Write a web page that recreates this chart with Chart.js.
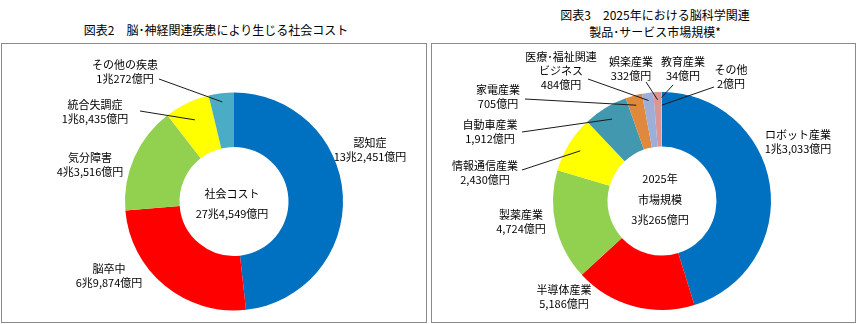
<!DOCTYPE html>
<html lang="ja">
<head>
<meta charset="utf-8">
<script src="https://cdn.jsdelivr.net/npm/chart.js@4/dist/chart.umd.min.js"></script>
<style>
    html, body { margin: 0; padding: 0; background: #fff; overflow: hidden; }
    body { width: 856px; height: 324px; position: relative; font-family: 'Noto Sans CJK JP', sans-serif; }
    .panel { position: absolute; top: 43px; height: 278px; border: 1px solid #8a8a8a; box-sizing: content-box; }
    .title { position: absolute; text-align: center; font-size: 12px; color: #000; white-space: nowrap; }
    canvas { position: absolute; top: 0; }
</style>
</head>
<body>
<div class="panel" style="left:1px; width:424px;"></div>
<div class="panel" style="left:431px; width:423px;"></div>
<div class="title" style="left:0; width:432px; top:22px; line-height:16px;">図表2　脳･神経関連疾患により生じる社会コスト</div>
<div class="title" style="left:455px; width:400px; top:6px; line-height:17px;">図表3　2025年における脳科学関連<br>製品･サービス市場規模*</div>
<canvas id="costChart" width="428" height="324" style="left:0;"></canvas>
<canvas id="marketChart" width="428" height="324" style="left:428px;"></canvas>
<script>
// --- データ ---
const costCategories = ['認知症', '脳卒中', '気分障害', '統合失調症', 'その他の疾患'];
const costValues = [132451, 69874, 43516, 18435, 10272];
const costColors = ['#0070C0', '#FF0000', '#92D050', '#FFFF00', '#4BACC6'];
const costCenterText = ['社会コスト', '27兆4,549億円'];

const marketCategories = ['ロボット産業', '半導体産業', '製薬産業', '情報通信産業', '自動車産業',
    '家電産業', '医療･福祉関連\nビジネス', '娯楽産業', '教育産業', 'その他'];
const marketValues = [13033, 5186, 4724, 2430, 1912, 705, 484, 332, 34, 2];
const marketColors = ['#0070C0', '#FF0000', '#92D050', '#FFFF00', '#4198AF',
    '#E0883C', '#9BAFD9', '#D99694', '#C8B8D8', '#8DB4E2'];
const marketCenterText = ['2025年', '市場規模', '3兆265億円'];

// --- ラベル配置 (キャンバス座標) ---
const costLabelPos = [[370, 143], [109, 269], [90, 158], [95, 105], [125, 65]];
const costLeaders = [null, null, null, { from: [140, 111], r: 0.83 }, { from: [159, 79], r: 0.92 }];

const marketLabelPos = [[370, 135], [136, 290], [93, 215], [57, 166], [62, 125],
    [70, 90], [133, 57], [203, 62], [255, 62], [303, 70]];
const marketLeaders = [null, null, null, { from: [94, 170], r: 0.88 }, { from: [94, 132], r: 0.88 },
    { from: [97, 99], r: 0.91 }, { from: [160, 79], r: 0.93 }, { from: [218, 82], r: 0.93 },
    { from: [245, 85], r: 0.95 }, { from: [286, 87], r: 0.88 }];

Chart.defaults.font.family = "'Noto Sans CJK JP', sans-serif";

// 億円 → "1兆3,033億円" の形式
function formatOku(v) {
    const cho = Math.floor(v / 10000);
    const rest = (v % 10000).toLocaleString('en-US');
    return cho > 0 ? cho + '兆' + rest + '億円' : rest + '億円';
}

// --- ラベルと引出線を描くプラグイン ---
const sliceLabelPlugin = {
    id: 'sliceLabels',
    afterDatasetsDraw(chart, args, opts) {
        const ctx = chart.ctx;
        const meta = chart.getDatasetMeta(0);
        const values = chart.data.datasets[0].data;
        ctx.save();
        ctx.font = "11px 'Noto Sans CJK JP'";
        ctx.fillStyle = '#000';
        ctx.textAlign = 'center';
        ctx.textBaseline = 'middle';

        meta.data.forEach((arc, i) => {
            const lines = chart.data.labels[i].split('\n').concat([formatOku(values[i])]);
            const pos = opts.positions[i];
            lines.forEach((t, k) => ctx.fillText(t, pos[0], pos[1] + k * 14));

            const leader = opts.leaders[i];
            if (leader) {
                const p = arc.getProps(['x', 'y', 'startAngle', 'endAngle', 'outerRadius'], true);
                const mid = (p.startAngle + p.endAngle) / 2;
                const r = p.outerRadius * leader.r;
                ctx.beginPath();
                ctx.strokeStyle = '#1a1a1a';
                ctx.lineWidth = 1;
                ctx.moveTo(leader.from[0], leader.from[1]);
                ctx.lineTo(p.x + Math.cos(mid) * r, p.y + Math.sin(mid) * r);
                ctx.stroke();
            }
        });

        // 中央のテキスト
        const c = meta.data[0];
        ctx.font = "11px 'Noto Sans CJK JP'";
        opts.center.forEach((t, k) => {
            ctx.fillText(t, c.x - 2, opts.centerTop + k * opts.centerGap);
        });
        ctx.restore();
    }
};

function makeDoughnut(id, labels, values, colors, positions, leaders, center, centerTop, centerGap, padTop) {
    return new Chart(document.getElementById(id).getContext('2d'), {
        type: 'doughnut',
        data: {
            labels: labels,
            datasets: [{
                data: values,
                backgroundColor: colors,
                borderWidth: 0,
                hoverOffset: 0
            }]
        },
        options: {
            responsive: false,
            animation: false,
            cutout: '50%',
            layout: { padding: { left: 125, right: 85, top: padTop, bottom: 324 - padTop - 218 } },
            plugins: {
                legend: { display: false },
                tooltip: { enabled: false },
                sliceLabels: { positions: positions, leaders: leaders, center: center, centerTop: centerTop, centerGap: centerGap }
            },
            events: []
        },
        plugins: [sliceLabelPlugin]
    });
}

// --- グラフ作成 ---
makeDoughnut('costChart', costCategories, costValues, costColors, costLabelPos, costLeaders,
    costCenterText, 194, 20, 92.5);
makeDoughnut('marketChart', marketCategories, marketValues, marketColors, marketLabelPos, marketLeaders,
    marketCenterText, 179, 20.5, 92);
</script>
</body>
</html>
